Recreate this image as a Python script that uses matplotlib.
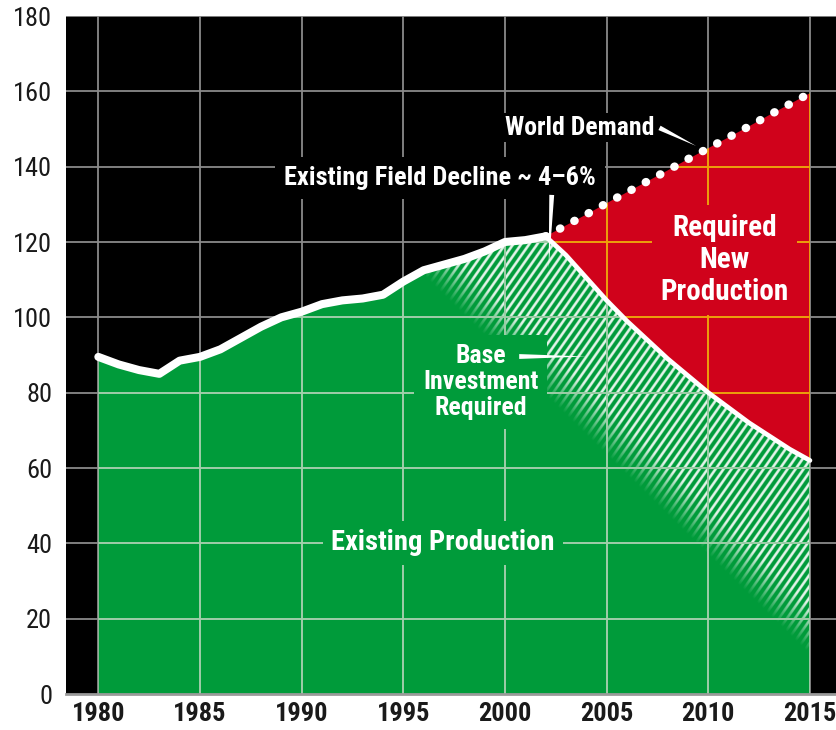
import numpy as np
import matplotlib
matplotlib.use("Agg")
import matplotlib.pyplot as plt

# values
hist_years = [1980, 1981, 1982, 1983, 1984, 1985, 1986, 1987, 1988, 1989, 1990,
              1991, 1992, 1993, 1994, 1995, 1996, 1997, 1998, 1999, 2000, 2001, 2002]
hist_prod = [89.5, 87.5, 86, 85, 88.5, 89.5, 91.5, 94.5, 97.5, 100, 101.5,
             103.5, 104.5, 105, 106, 109.5, 112.5, 114, 115.5, 117.5, 120, 120.5, 121.5]

future_years = [2002, 2003, 2004, 2005, 2006, 2007, 2008, 2009, 2010, 2011, 2012, 2013, 2014, 2015]
decline_prod = [121.5, 116.5, 110.5, 104.5, 99, 94, 89, 84.5, 80, 76, 72, 68.5, 65, 62]
world_demand = [121.5, 124.4, 127.3, 130.3, 133.2, 136.1, 139.0, 142.0, 144.9,
                147.8, 150.7, 153.7, 156.6, 159.5]

x_ticks = [1980, 1985, 1990, 1995, 2000, 2005, 2010, 2015]
y_ticks = [0, 20, 40, 60, 80, 100, 120, 140, 160, 180]

GREEN = '#009b3a'
RED = '#d0021b'
GRID = '#8a8a8a'
GRID_GREEN = '#9fd3aa'
GRID_RED = '#f5a000'
FONT = ['Roboto Condensed', 'DejaVu Sans']

W, H = 837, 730
fig = plt.figure(figsize=(W / 100, H / 100), dpi=100)
ax = fig.add_axes([66 / W, 1 - 694 / H, 1 - 66 / W, (694 - 16) / H])
ax.set_facecolor('black')

# areas
green = ax.fill(hist_years + future_years[1:] + [2015, 1980],
                hist_prod + decline_prod[1:] + [0, 0],
                color=GREEN, lw=0, zorder=1)[0]
red = ax.fill(future_years + future_years[::-1],
              world_demand + decline_prod[::-1],
              color=RED, lw=0, zorder=1)[0]

# fading white hatch under the decline curve
sx, sy = 20.33, 3.767  # px per year / per unit
tx = np.linspace(1995, 2015.5, 1000)
vy = np.linspace(0, 125, 1200)
T, V = np.meshgrid(tx, vy)
ang = np.radians(55)
n = (T - 1980) * sx * np.sin(ang) - V * sy * np.cos(ang)
phase = (n / (8 * np.sin(ang))) % 1.0
stripe = np.clip((0.2 - np.abs(phase - 0.5)) / 0.06 + 0.5, 0, 1)
centre = 70 - 5.3 * (T - 2005)
fade = np.clip((V - centre) / 13 + 0.5, 0, 1)
rgba = np.ones(T.shape + (4,))
rgba[..., 3] = stripe * fade * 0.9
im = ax.imshow(rgba, extent=(1995, 2015.5, 0, 125), origin='lower',
               aspect='auto', interpolation='bilinear', zorder=1.2)
im.set_clip_path(green)

# grid: gray on black, light on green, orange on red
for col, clip in [(GRID, None), (GRID_GREEN, green), (GRID_RED, red)]:
    for x in x_ticks:
        ln = ax.axvline(x, color=col, lw=1.3, zorder=1.5)
        if clip is not None:
            ln.set_clip_path(clip)
    for y in y_ticks[1:]:
        ln = ax.axhline(y, color=col, lw=1.3, zorder=1.5)
        if clip is not None:
            ln.set_clip_path(clip)

# lines
ax.plot(hist_years, hist_prod, color='white', lw=5.8, solid_capstyle='round',
        solid_joinstyle='round', zorder=3)
ax.plot(future_years, decline_prod, color='white', lw=3.4, solid_capstyle='round', zorder=3)
ax.plot(future_years, world_demand, color='white', lw=6, linestyle=(0, (0.05, 1.9)),
        dash_capstyle='round', zorder=3.5)

# labels
def label(x, y, s, size, bg, ls=1.2, pad=0.4):
    ax.text(x, y, s, color='white', fontsize=size, fontweight='bold', family=FONT,
            ha='center', va='center', multialignment='center', linespacing=ls,
            bbox=dict(boxstyle='square,pad=%s' % pad, fc=bg, ec='none'), zorder=4)

label(1996.8, 137, 'Existing Field Decline ~ 4\u20136%', 19, 'black', pad=0.35)
label(2003.7, 150.3, 'World Demand', 18.5, 'black', pad=0.1)
label(2010.8, 115.2, 'Required\nNew\nProduction', 21, RED, ls=1.2, pad=0.3)
label(1998.8, 82.8, 'Base\nInvestment\nRequired', 18.5, GREEN, ls=1.12, pad=0.35)
label(1996.95, 40.1, 'Existing Production', 20.5, GREEN, pad=0.3)

wedge = dict(arrowstyle='wedge,tail_width=0.35,shrink_factor=0.5', color='white',
             shrinkA=0, shrinkB=0, lw=0)
ax.annotate('', xy=(2009.4, 145.5), xytext=(2007.6, 150.3), arrowprops=wedge, zorder=4)
ax.annotate('', xy=(2002.15, 113), xytext=(2002.3, 132.5), arrowprops=wedge, zorder=4)
ax.annotate('', xy=(2004.0, 89.6), xytext=(2000.7, 89.6), arrowprops=wedge, zorder=4)

ax.set_xlim(1978.41, 2016.33)
ax.set_ylim(0, 180)
ax.set_xticks(x_ticks)
ax.set_yticks(y_ticks)
ax.tick_params(length=0)
ax.tick_params(axis='x', pad=6)
ax.tick_params(axis='y', pad=10)
for t in ax.get_xticklabels():
    t.set_fontfamily(FONT)
    t.set_fontsize(19)
    t.set_fontweight('bold')
    t.set_color('#1a1a1a')
for t in ax.get_yticklabels():
    t.set_fontfamily(FONT)
    t.set_fontsize(19)
    t.set_color('#1a1a1a')
for s in ['top', 'left', 'right']:
    ax.spines[s].set_visible(False)
ax.spines['bottom'].set_color('#9a9a9a')
ax.spines['bottom'].set_linewidth(2)

fig.savefig('out.png', dpi=100)
